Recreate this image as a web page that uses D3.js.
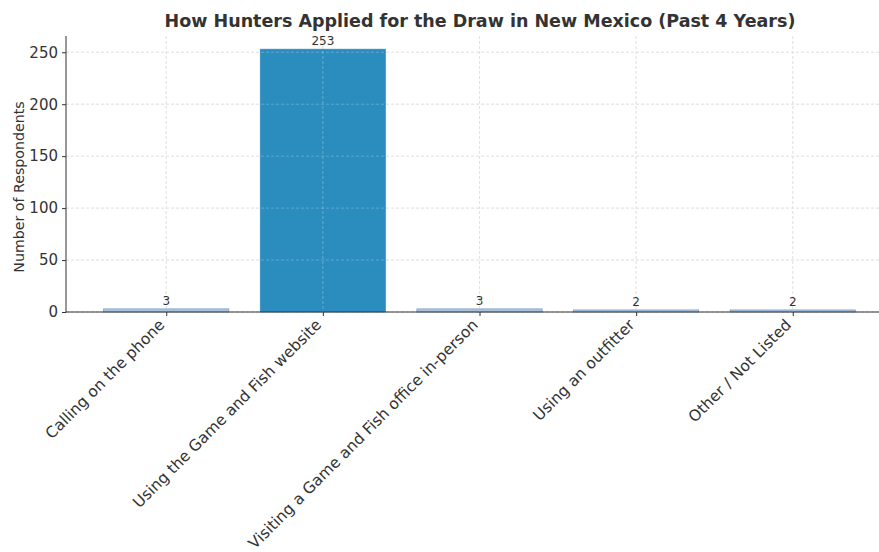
<!DOCTYPE html>
<html><head><meta charset="utf-8">
<script src="https://cdn.jsdelivr.net/npm/d3@7"></script>
<style>body{margin:0;background:#fff}text{font-family:"DejaVu Sans",sans-serif;fill:#333}</style>
</head><body><svg id="c" width="879" height="552"></svg>
<script>
const categories = ["Calling on the phone","Using the Game and Fish website","Visiting a Game and Fish office in-person","Using an outfitter","Other / Not Listed"];
const values = [3,253,3,2,2];
const yTicks = [0,50,100,150,200,250];
const title = "How Hunters Applied for the Draw in New Mexico (Past 4 Years)";
const yLabel = "Number of Respondents";

const svg = d3.select("#c");
const L=66, R=893, T=36, B=312;
const x = d3.scaleLinear().domain([-0.64, categories.length-0.36]).range([L,R]);
const y = d3.scaleLinear().domain([0, 253*1.05]).range([B,T]);
const bw = 0.8;

// grid
svg.append("g").selectAll("line").data(yTicks).join("line")
  .attr("x1",L).attr("x2",R).attr("y1",d=>y(d)).attr("y2",d=>y(d))
  .attr("stroke","#cfcfcf").attr("stroke-width",0.8).attr("stroke-dasharray","3,2");
svg.append("g").selectAll("line").data(categories).join("line")
  .attr("x1",(d,i)=>x(i)).attr("x2",(d,i)=>x(i)).attr("y1",T).attr("y2",B)
  .attr("stroke","#cfcfcf").attr("stroke-width",0.8).attr("stroke-dasharray","3,2");

// bars
svg.append("g").selectAll("rect").data(values).join("rect")
  .attr("x",(d,i)=>x(i-bw/2)).attr("width",x(bw)-x(0))
  .attr("y",d=>y(d)).attr("height",d=>B-y(d))
  .attr("fill",d=>d>100?"#2b8cbe":"#a8c5e0")
  .attr("stroke",d=>d>100?"#2b8cbe":"#6f8fb5").attr("stroke-width",0.6);

// grid over big bar
svg.append("g").selectAll("line").data(categories).join("line")
  .attr("x1",(d,i)=>x(i)).attr("x2",(d,i)=>x(i)).attr("y1",T).attr("y2",B)
  .attr("stroke","#ffffff").attr("stroke-opacity",0.35).attr("stroke-width",0.8).attr("stroke-dasharray","3,2");
svg.append("g").selectAll("line").data(yTicks.slice(1)).join("line")
  .attr("x1",L).attr("x2",R).attr("y1",d=>y(d)).attr("y2",d=>y(d))
  .attr("stroke","#ffffff").attr("stroke-opacity",0.3).attr("stroke-width",0.8).attr("stroke-dasharray","3,2");

// value labels
svg.append("g").selectAll("text").data(values).join("text")
  .attr("x",(d,i)=>x(i)).attr("y",d=>y(d)-4).attr("text-anchor","middle")
  .attr("font-size",12).text(d=>d);

// axes
const ya = svg.append("g").attr("transform",`translate(${L},0)`)
  .call(d3.axisLeft(y).tickValues(yTicks).tickSize(4).tickPadding(4));
ya.select(".domain").attr("stroke","#333").attr("d",`M0,${T}V${B}`);
ya.selectAll(".tick line").attr("stroke","#333");
ya.selectAll("text").attr("font-size",15).attr("fill","#333").style("font-family","DejaVu Sans");

const xa = svg.append("g").attr("transform",`translate(0,${B})`)
  .call(d3.axisBottom(x).tickValues(d3.range(categories.length)).tickFormat(i=>categories[i]).tickSize(4).tickPadding(4));
xa.select(".domain").attr("stroke","#333").attr("d",`M${L},0H${R}`);
xa.selectAll(".tick line").attr("stroke","#333");
xa.selectAll("text").attr("font-size",15.5).attr("fill","#333").style("font-family","DejaVu Sans")
  .attr("text-anchor","end").attr("dy","0.35em")
  .attr("transform","translate(-5,10) rotate(-45)").attr("y",0).attr("x",0);

svg.append("text").attr("x",480).attr("y",27).attr("text-anchor","middle")
  .attr("font-size",17.5).attr("font-weight","bold").text(title);
svg.append("text").attr("transform",`translate(24,187) rotate(-90)`)
  .attr("text-anchor","middle").attr("font-size",14.2).text(yLabel);
</script></body></html>
